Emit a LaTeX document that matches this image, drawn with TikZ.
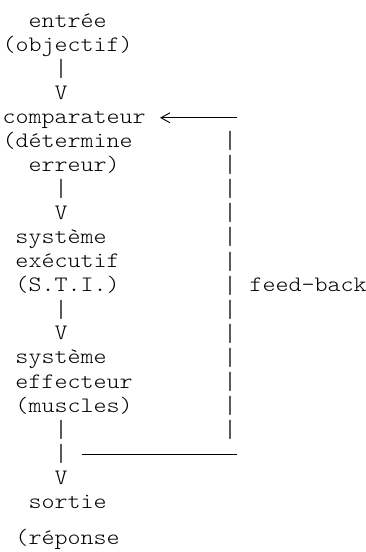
\documentclass[tikz,border=0pt]{standalone}
\usepackage{fontspec}
\usepackage{tikz}
\usetikzlibrary{positioning, arrows.meta}
\newfontfamily\asciifont[FakeStretch=1.126]{lmmonolt10-regular.otf}
\newcommand{\vbar}{\raisebox{-3.5pt}{\resizebox*{13pt}{19.5pt}{\raisebox{\depth}{|}}}}

\begin{document}
\begin{tikzpicture}[x=1pt, y=-1pt,
  every node/.style={inner sep=0pt, outer sep=0pt, anchor=base west, font=\asciifont\fontsize{22}{24}\selectfont},
  fbline/.style={line width=0.9pt}]
\useasboundingbox (0,0) rectangle (366,552);
\pgfmathsetmacro{\colw}{13}
\pgfmathsetmacro{\rowh}{24.07}
\pgfmathsetmacro{\xo}{2.5}
\pgfmathsetmacro{\yo}{27}

\node (in) at (\xo+2*\colw,\yo) {entrée};
\node (inobj) at (\xo,\yo+1*\rowh) {(objectif)};
\node (bara) at (\xo+4*\colw,\yo+2*\rowh) {\vbar};
\node (va) at (\xo+4*\colw,\yo+3*\rowh) {V};

\node (comp) at (\xo,\yo+4*\rowh) {comparateur};
\node (compa) at (\xo,\yo+5*\rowh) {(détermine};
\node (compb) at (\xo+2*\colw,\yo+6*\rowh) {erreur)};
\node (barb) at (\xo+4*\colw,\yo+7*\rowh) {\vbar};
\node (vb) at (\xo+4*\colw,\yo+8*\rowh) {V};

\node (exec) at (\xo+\colw,\yo+9*\rowh) {système};
\node (execa) at (\xo+\colw,\yo+10*\rowh) {exécutif};
\node (execb) at (\xo+\colw,\yo+11*\rowh) {(S.T.I.)};
\node (barc) at (\xo+4*\colw,\yo+12*\rowh) {\vbar};
\node (vc) at (\xo+4*\colw,\yo+13*\rowh) {V};

\node (eff) at (\xo+\colw,\yo+14*\rowh) {système};
\node (effa) at (\xo+\colw,\yo+15*\rowh) {effecteur};
\node (effb) at (\xo+\colw,\yo+16*\rowh) {(muscles)};
\node (bard) at (\xo+4*\colw,\yo+17*\rowh) {\vbar};
\node (bare) at (\xo+4*\colw,\yo+18*\rowh) {\vbar};
\node (vd) at (\xo+4*\colw,\yo+19*\rowh) {V};

\node (out) at (\xo+2*\colw,\yo+20*\rowh) {sortie};
\node (outa) at (\xo+\colw,\yo+21.5*\rowh) {(réponse};

\foreach \r in {5,...,17}
  \node (fbbar\r) at (\xo+17*\colw,\yo+\r*\rowh) {\vbar};
\node (fb) at (\xo+19*\colw,\yo+11*\rowh) {feed-back};

\coordinate (fbtop) at (\xo+18*\colw,\yo+4*\rowh-5.5);
\coordinate (fbbot) at (\xo+18*\colw,\yo+18*\rowh-5.5);
\coordinate (fbstart) at (\xo+6*\colw+1.5,\yo+18*\rowh-5.5);
\draw[fbline, shorten >=14.5pt, -{Straight Barb[length=9pt, width=10pt, line width=0.9pt]}] (fbtop) -- (comp.east |- fbtop);
\draw[fbline] (fbstart) -- (fbbot);
\end{tikzpicture}
\end{document}
